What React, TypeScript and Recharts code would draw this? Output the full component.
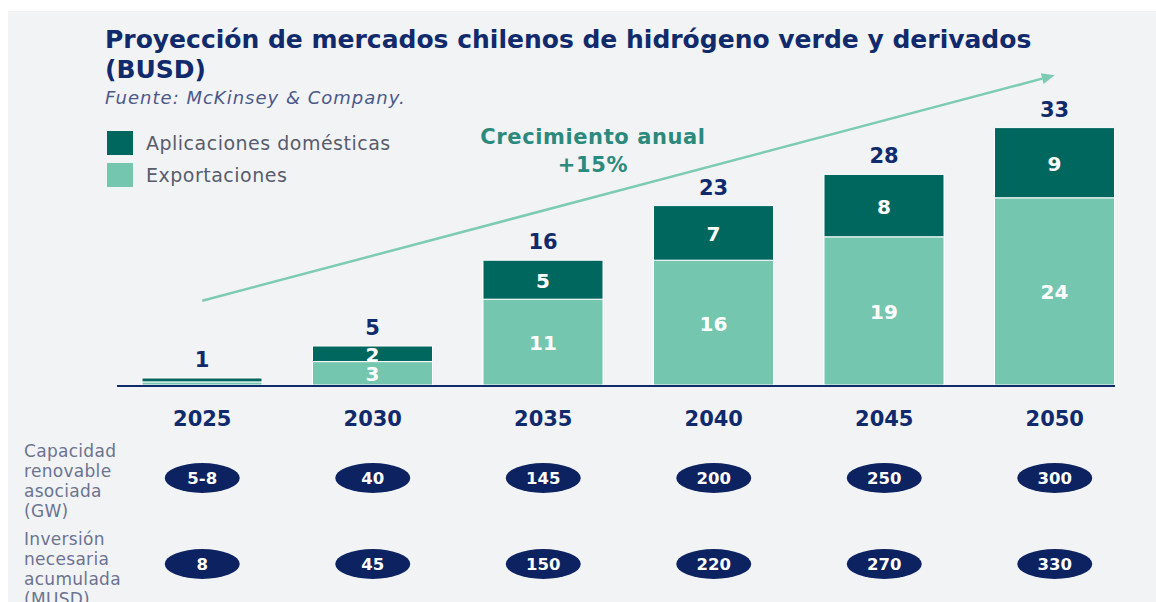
import React from 'react';
import { BarChart, Bar, XAxis, YAxis, LabelList, Legend, ReferenceLine } from 'recharts';

const categories = ['2025', '2030', '2035', '2040', '2045', '2050'];
const exportaciones = [0.4, 3, 11, 16, 19, 24];
const domesticas = [0.5, 2, 5, 7, 8, 9];
const totales = [1, 5, 16, 23, 28, 33];
const capacidad = ['5-8', '40', '145', '200', '250', '300'];
const inversion = ['8', '45', '150', '220', '270', '330'];
const arrowStart = 10.8;
const arrowEnd = 39.7;

const data = categories.map((year, i) => ({
  year,
  exportaciones: exportaciones[i],
  domesticas: domesticas[i],
  total: totales[i],
}));

const NAVY = '#102a6b';
const PILL = '#0d2260';
const DARK = '#00675f';
const LIGHT = '#75c6ae';
const ARROW = '#7dcbb3';
const NUM_FONT = '"DejaVu Sans", sans-serif';
const TEXT_FONT = '"DejaVu Sans", sans-serif';

const XTick = (props: any) => {
  const { x, y, payload } = props;
  const i = categories.indexOf(payload.value);
  const pill = (cy: number, txt: string) => (
    <g>
      <ellipse cx={x} cy={cy} rx={37.5} ry={15} fill={PILL} />
      <text x={x} y={cy} textAnchor="middle" dominantBaseline="central" fill="#ffffff"
        fontFamily={NUM_FONT} fontWeight={700} fontSize={16.5}>{txt}</text>
    </g>
  );
  return (
    <g>
      <text x={x} y={y + 34} textAnchor="middle" dominantBaseline="central" fill={NAVY}
        fontFamily={NUM_FONT} fontWeight={700} fontSize={21}>{payload.value}</text>
      {pill(y + 93, capacidad[i])}
      {pill(y + 179, inversion[i])}
    </g>
  );
};

const InnerLabel = (props: any) => {
  const { x, y, width, height, value } = props;
  if (value < 1) return null;
  return (
    <text x={x + width / 2} y={y + height / 2 + 1} textAnchor="middle" dominantBaseline="central"
      fill="#ffffff" fontFamily={NUM_FONT} fontWeight={700} fontSize={20}>{value}</text>
  );
};

const TotalLabel = (props: any) => {
  const { x, y, width, value } = props;
  return (
    <text x={x + width / 2} y={y - 18} textAnchor="middle" dominantBaseline="central"
      fill={NAVY} fontFamily={NUM_FONT} fontWeight={700} fontSize={21}>{value}</text>
  );
};

const ArrowShape = (props: any) => {
  const { x1, y1, x2, y2 } = props;
  if (x1 == null) return null;
  const ang = Math.atan2(y2 - y1, x2 - x1);
  const L = 13, W = 5.5;
  const bx = x2 - L * Math.cos(ang), by = y2 - L * Math.sin(ang);
  const px = -Math.sin(ang) * W, py = Math.cos(ang) * W;
  return (
    <g>
      <line x1={x1} y1={y1} x2={bx} y2={by} stroke={ARROW} strokeWidth={2.5} />
      <polygon points={`${x2},${y2} ${bx + px},${by + py} ${bx - px},${by - py}`} fill={ARROW} />
    </g>
  );
};

const BaseLine = (props: any) => {
  const { x1, y1, x2 } = props;
  if (x1 == null) return null;
  return <line x1={x1} y1={y1 + 1} x2={x2 - 25} y2={y1 + 1} stroke={NAVY} strokeWidth={2.2} />;
};

const LegendContent = (props: any) => {
  const payload = [...(props.payload || [])].sort((a: any, b: any) =>
    a.value === 'Aplicaciones domésticas' ? -1 : b.value === 'Aplicaciones domésticas' ? 1 : 0);
  return (
    <div>
      {payload.map((p: any) => (
        <div key={p.value} style={{ display: 'flex', alignItems: 'center', height: 32 }}>
          <div style={{ width: 26, height: 24, background: p.color, marginRight: 13 }} />
          <span style={{ fontFamily: TEXT_FONT, fontSize: 19, letterSpacing: 0.5, color: '#575d6c' }}>{p.value}</span>
        </div>
      ))}
    </div>
  );
};

export default function App() {
  return (
    <div style={{ position: 'absolute', left: 8, top: 11, width: 1148, height: 591, background: '#f2f3f5', overflow: 'hidden' }}>
      <div style={{ position: 'absolute', left: 97, top: 14, fontFamily: TEXT_FONT, fontWeight: 700, fontSize: 25, lineHeight: '30px', color: NAVY, width: 1045, whiteSpace: 'nowrap' }}>
        Proyección de mercados chilenos de hidrógeno verde y derivados<br />(BUSD)
      </div>
      <div style={{ position: 'absolute', left: 97, top: 76, fontFamily: TEXT_FONT, fontStyle: 'italic', fontSize: 18, letterSpacing: 1, lineHeight: '22px', color: '#4a5888' }}>
        Fuente: McKinsey &amp; Company.
      </div>
      <div style={{ position: 'absolute', left: 585, top: 112, transform: 'translateX(-50%)', textAlign: 'center', fontFamily: NUM_FONT, fontWeight: 700, fontSize: 21, letterSpacing: 0.6, lineHeight: '28px', color: '#2b8a7c', whiteSpace: 'nowrap' }}>
        Crecimiento anual<br />+15%
      </div>
      <div style={{ position: 'absolute', left: 16, top: 430, fontFamily: TEXT_FONT, fontSize: 17, letterSpacing: 0.3, lineHeight: '20px', color: '#6b7390' }}>
        Capacidad<br />renovable<br />asociada<br />(GW)
      </div>
      <div style={{ position: 'absolute', left: 16, top: 518, fontFamily: TEXT_FONT, fontSize: 17, letterSpacing: 0.3, lineHeight: '20px', color: '#6b7390' }}>
        Inversión<br />necesaria<br />acumulada<br />(MUSD)
      </div>
      <BarChart width={1148} height={591} data={data} margin={{ top: 62, right: 16, left: 109, bottom: 0 }} barSize={120}>
        <XAxis dataKey="year" axisLine={false} tickLine={false} tickSize={0} tickMargin={0} height={217} tick={<XTick />} interval={0} />
        <YAxis hide domain={[0, 40]} />
        <Legend layout="vertical" align="center" verticalAlign="middle" content={<LegendContent />}
          wrapperStyle={{ left: 99, top: 116, width: 340, height: 64 }} />
        <Bar dataKey="exportaciones" name="Exportaciones" stackId="a" fill={LIGHT} stroke="#ffffff" strokeWidth={1} isAnimationActive={false}>
          <LabelList dataKey="exportaciones" content={<InnerLabel />} />
        </Bar>
        <Bar dataKey="domesticas" name="Aplicaciones domésticas" stackId="a" fill={DARK} stroke="#ffffff" strokeWidth={1} isAnimationActive={false}>
          <LabelList dataKey="domesticas" content={<InnerLabel />} />
          <LabelList dataKey="total" content={<TotalLabel />} />
        </Bar>
        <ReferenceLine y={0} shape={<BaseLine />} ifOverflow="visible" />
        <ReferenceLine segment={[{ x: '2025', y: arrowStart }, { x: '2050', y: arrowEnd }]} shape={<ArrowShape />} ifOverflow="visible" />
      </BarChart>
    </div>
  );
}
